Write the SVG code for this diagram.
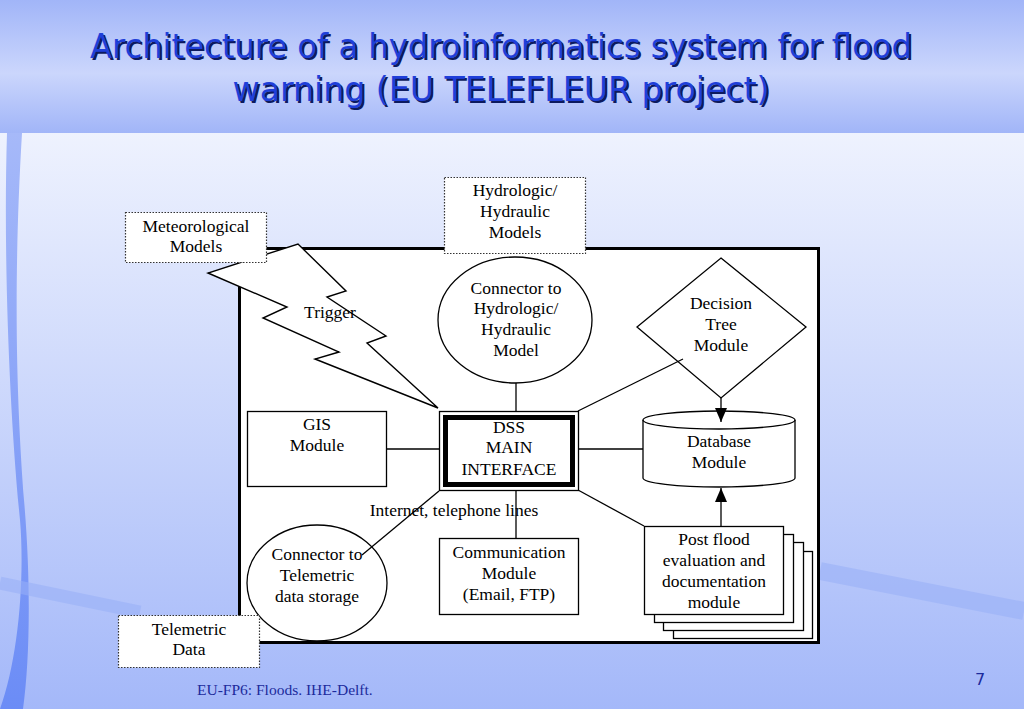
<svg xmlns="http://www.w3.org/2000/svg" width="1024" height="709" viewBox="0 0 1024 709">
<defs>
<linearGradient id="band" x1="0" y1="0" x2="0" y2="1">
<stop offset="0" stop-color="#a1b5f8"/>
<stop offset="0.55" stop-color="#cbd6fc"/>
<stop offset="1" stop-color="#a1b5f8"/>
</linearGradient>
<linearGradient id="body" x1="0" y1="0" x2="0" y2="1">
<stop offset="0" stop-color="#eef2fe"/>
<stop offset="1" stop-color="#a4b8f9"/>
</linearGradient>
<linearGradient id="stripe" x1="0" y1="0" x2="0" y2="1">
<stop offset="0" stop-color="#a6b9f9"/>
<stop offset="1" stop-color="#6b8cf6"/>
</linearGradient>
<marker id="arr" viewBox="0 0 14 12" refX="14" refY="6" markerUnits="userSpaceOnUse" markerWidth="14" markerHeight="12" orient="auto">
<path d="M0,0 L14,6 L0,12 z" fill="#000"/>
</marker>
<style>
.t{font-family:"Liberation Serif","Times New Roman",serif;font-size:17.5px;fill:#000;text-anchor:middle}
.box{fill:#fff;stroke:#000;stroke-width:1.3}
.dot{fill:#fff;stroke:#333;stroke-width:1.2;stroke-dasharray:1.5 1.5}
.shape{fill:none;stroke:#000;stroke-width:1.3}
.ln{stroke:#000;stroke-width:1.3;fill:none}
.title{font-family:"DejaVu Sans Condensed","DejaVu Sans",sans-serif;font-size:34px;text-anchor:middle}
</style>
</defs>

<!-- background -->
<rect x="0" y="133" width="1024" height="576" fill="url(#body)"/>
<rect x="0" y="0" width="1024" height="133" fill="url(#band)"/>
<path d="M7,133 C3,260 10,420 20,520 C25,580 18,660 0,709 L23,709 C30,660 31,580 24,500 C18,420 12,300 22,133 Z" fill="url(#stripe)"/>
<line x1="0" y1="583" x2="140" y2="612" stroke="#98b0f8" stroke-width="13" opacity="0.55"/>
<line x1="820" y1="571" x2="1024" y2="611" stroke="#98b0f8" stroke-width="18" opacity="0.55"/>

<!-- title -->
<g id="title">
<text class="title" x="503" y="60" fill="#0d1a5e" textLength="822" lengthAdjust="spacingAndGlyphs">Architecture of a hydroinformatics system for flood</text>
<text class="title" x="503" y="103" fill="#0d1a5e" textLength="537" lengthAdjust="spacingAndGlyphs">warning (EU TELEFLEUR project)</text>
<text class="title" x="501" y="58" fill="#1f3fd9" textLength="822" lengthAdjust="spacingAndGlyphs">Architecture of a hydroinformatics system for flood</text>
<text class="title" x="501" y="101" fill="#1f3fd9" textLength="537" lengthAdjust="spacingAndGlyphs">warning (EU TELEFLEUR project)</text>
</g>

<!-- frame -->
<rect id="frame" x="239.5" y="248.5" width="579" height="394" fill="#fff" stroke="#000" stroke-width="3"/>

<!-- connectors -->
<g id="connectors">
<line class="ln" x1="516" y1="383" x2="516" y2="411"/>
<line class="ln" x1="387" y1="449" x2="439" y2="449"/>
<line class="ln" x1="578" y1="449" x2="643" y2="449"/>
<line class="ln" x1="578" y1="411" x2="683" y2="359"/>
<line class="ln" x1="516" y1="491" x2="516" y2="538"/>
<line class="ln" x1="439" y1="491" x2="362" y2="555"/>
<line class="ln" x1="578" y1="490" x2="644" y2="526"/>
<line class="ln" x1="721" y1="398" x2="721" y2="422" marker-end="url(#arr)"/>
<line class="ln" x1="721" y1="526" x2="721" y2="488" marker-end="url(#arr)"/>
<g id="trigger">
<polygon points="208,273 287,307 263,318 339,352 315,359 438,408 367,343 386,336 327,297 346,291 298,244" fill="#fff" stroke="#000" stroke-width="1.4" stroke-linejoin="miter"/>
<text class="t" x="330" y="318">Trigger</text>
</g>
<text class="t" x="454" y="516">Internet, telephone lines</text>
</g>

<!-- nodes -->
<g id="meteo">
<rect class="dot" x="125.5" y="212.5" width="141" height="50"/>
<text class="t" x="196" y="232">Meteorological</text>
<text class="t" x="196" y="252">Models</text>
</g>
<g id="hydromodels">
<rect class="dot" x="444.5" y="177.5" width="141" height="76"/>
<text class="t" x="515" y="196">Hydrologic/</text>
<text class="t" x="515" y="217">Hydraulic</text>
<text class="t" x="515" y="238">Models</text>
</g>
<g id="hydroconnector">
<ellipse class="shape" cx="515" cy="320" rx="77" ry="63"/>
<text class="t" x="516" y="294">Connector to</text>
<text class="t" x="516" y="314">Hydrologic/</text>
<text class="t" x="516" y="335">Hydraulic</text>
<text class="t" x="516" y="356">Model</text>
</g>
<g id="decision">
<polygon class="shape" points="721,258 806,327 721,398 637,327"/>
<text class="t" x="721" y="309">Decision</text>
<text class="t" x="721" y="330">Tree</text>
<text class="t" x="721" y="351">Module</text>
</g>
<g id="gis">
<rect class="box" x="247.5" y="411.5" width="139" height="75"/>
<text class="t" x="317" y="430">GIS</text>
<text class="t" x="317" y="451">Module</text>
</g>
<g id="dss">
<rect class="box" x="439.5" y="411.5" width="139" height="79"/>
<rect x="445.5" y="417.5" width="127" height="67" fill="#fff" stroke="#000" stroke-width="5"/>
<text class="t" x="509" y="433">DSS</text>
<text class="t" x="509" y="453">MAIN</text>
<text class="t" x="509" y="475">INTERFACE</text>
</g>
<g id="database">
<path class="shape" d="M643,420 L643,478 A76,9 0 0 0 795,478 L795,420"/>
<ellipse class="shape" cx="719" cy="420" rx="76" ry="9"/>
<text class="t" x="719" y="447">Database</text>
<text class="t" x="719" y="468">Module</text>
</g>
<g id="telemconnector">
<ellipse class="shape" cx="317" cy="583" rx="70" ry="58"/>
<text class="t" x="317" y="560">Connector to</text>
<text class="t" x="317" y="581">Telemetric</text>
<text class="t" x="317" y="602">data storage</text>
</g>
<g id="communication">
<rect class="box" x="439.5" y="538.5" width="139" height="76"/>
<text class="t" x="509" y="558">Communication</text>
<text class="t" x="509" y="579">Module</text>
<text class="t" x="509" y="600">(Email, FTP)</text>
</g>
<g id="postflood">
<rect class="box" x="673.5" y="551.5" width="139" height="87"/>
<rect class="box" x="663.5" y="542.5" width="140" height="88"/>
<rect class="box" x="654.5" y="534.5" width="139" height="88"/>
<rect class="box" x="644.5" y="526.5" width="139" height="88"/>
<text class="t" x="714" y="545">Post flood</text>
<text class="t" x="714" y="566">evaluation and</text>
<text class="t" x="714" y="587">documentation</text>
<text class="t" x="714" y="608">module</text>
</g>
<g id="telemdata">
<rect class="dot" x="118.5" y="615.5" width="141" height="52"/>
<text class="t" x="189" y="635">Telemetric</text>
<text class="t" x="189" y="655">Data</text>
</g>

<!-- footer -->
<text x="197" y="695" font-family="Liberation Serif, Times New Roman, serif" font-size="15.5" fill="#1c2a9c">EU-FP6: Floods. IHE-Delft.</text>
<text x="975" y="685" font-family="DejaVu Sans, sans-serif" font-size="16" fill="#1c2a9c">7</text>
</svg>
